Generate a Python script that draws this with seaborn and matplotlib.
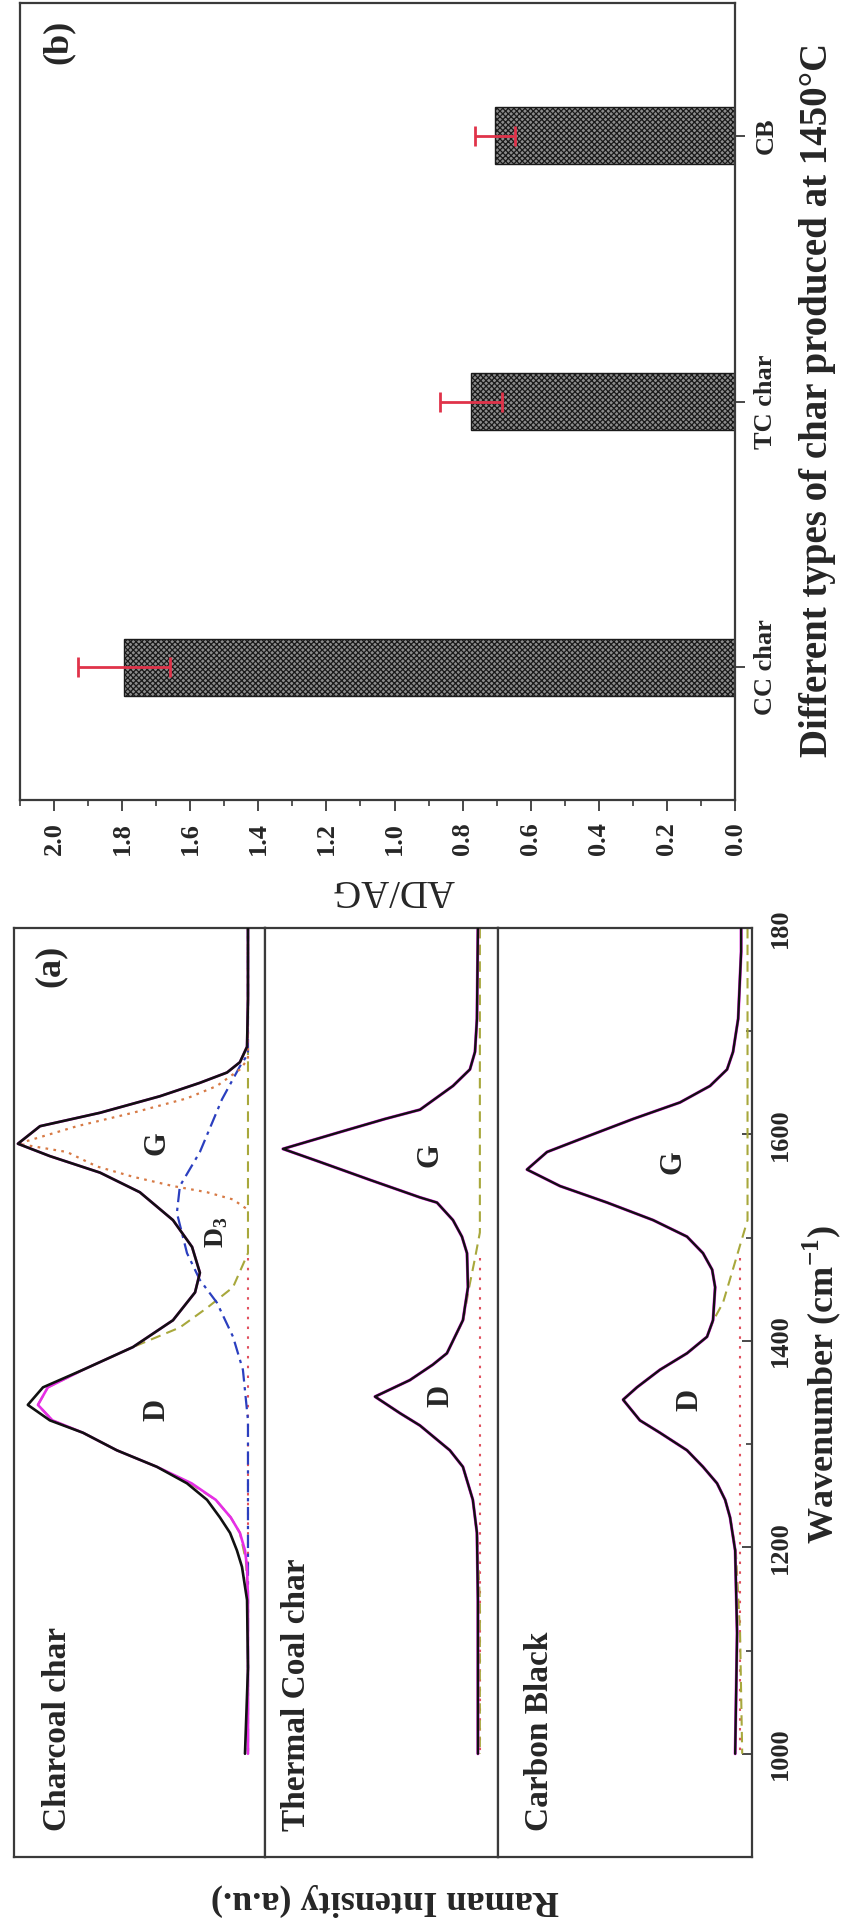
import matplotlib
matplotlib.use("Agg")
import matplotlib.pyplot as plt
import matplotlib.ticker as mticker
import numpy as np
import pandas as pd
import seaborn as sns

sns.set_theme(style="ticks")
plt.rcParams["font.family"] = ["Liberation Serif", "DejaVu Serif"]
plt.rcParams["font.weight"] = "bold"
plt.rcParams["mathtext.fontset"] = "custom"
plt.rcParams["mathtext.rm"] = "Liberation Serif"
plt.rcParams["mathtext.bf"] = "Liberation Serif:bold"
plt.rcParams["hatch.linewidth"] = 0.9

# ---------------- panel (b): AD/AG ratio ----------------
chars = ["CC char", "TC char", "CB"]
ad_ag = [1.795, 0.775, 0.705]
ad_ag_err = [0.135, 0.09, 0.06]

# ---------------- panel (a): Raman spectra ----------------
# charcoal char
cc_w = [1800, 1731, 1685, 1670, 1660, 1650, 1637, 1621, 1608, 1591, 1579, 1563, 1544,
        1517, 1491, 1466, 1447, 1420, 1394, 1372, 1355, 1338, 1323, 1311, 1294, 1278,
        1262, 1246, 1229, 1214, 1197, 1181, 1149, 1083, 1000]
cc_raw = [0.0, 0.0, 0.004, 0.035, 0.091, 0.209, 0.383, 0.643, 0.904, 1.0, 0.861, 0.643, 0.470,
          0.326, 0.243, 0.209, 0.230, 0.326, 0.5, 0.717, 0.891, 0.957, 0.861, 0.717, 0.570, 0.396,
          0.265, 0.178, 0.122, 0.078, 0.048, 0.026, 0.004, 0.0, 0.013]
cc_fit = [0.0, 0.0, 0.004, 0.035, 0.091, 0.209, 0.383, 0.643, 0.904, 1.0, 0.861, 0.643, 0.470,
          0.326, 0.243, 0.209, 0.230, 0.326, 0.5, 0.717, 0.87, 0.913, 0.85, 0.717, 0.570, 0.396,
          0.245, 0.14, 0.075, 0.035, 0.013, 0.004, 0.0, 0.0, 0.0]
cc_g_w = [1800, 1673, 1663, 1647, 1635, 1621, 1608, 1591, 1583, 1569, 1559, 1550, 1544, 1537, 1527]
cc_g_i = [0.0, 0.0, 0.035, 0.135, 0.265, 0.5, 0.743, 1.0, 0.787, 0.657, 0.5, 0.326, 0.178, 0.065, 0.0]
cc_d3_w = [1800, 1678, 1666, 1634, 1583, 1550, 1524, 1485, 1459, 1437, 1404, 1372, 1323, 1000]
cc_d3_i = [0.0, 0.0, 0.035, 0.113, 0.209, 0.296, 0.309, 0.265, 0.209, 0.135, 0.065, 0.022, 0.0, 0.0]
cc_d_w = [1800, 1485, 1452, 1432, 1413, 1394, 1372, 1355, 1338, 1323, 1311, 1294, 1278, 1262,
          1246, 1229, 1214, 1187, 1149, 1000]
cc_d_i = [0.0, 0.0, 0.065, 0.178, 0.296, 0.5, 0.717, 0.87, 0.913, 0.85, 0.717, 0.57, 0.396, 0.252,
          0.14, 0.075, 0.035, 0.009, 0.0, 0.0]
cc_d4_w = [1480, 1000]
cc_d4_i = [0.0, 0.0]

# thermal coal char
tc_w = [1800, 1712, 1680, 1663, 1647, 1624, 1615, 1602, 1586, 1573, 1556, 1539, 1534, 1517,
        1501, 1485, 1452, 1420, 1388, 1377, 1362, 1346, 1330, 1318, 1294, 1278, 1246, 1214,
        1149, 1000]
tc_raw = [0.0, 0.005, 0.015, 0.041, 0.128, 0.297, 0.477, 0.713, 1.0, 0.805, 0.554, 0.297, 0.21,
          0.128, 0.082, 0.056, 0.051, 0.077, 0.159, 0.231, 0.349, 0.528, 0.4, 0.297, 0.144, 0.077,
          0.026, 0.005, 0.0, 0.0]
tc_d_w = [1800, 1505, 1480, 1452, 1420, 1388, 1377, 1362, 1346, 1330, 1318, 1294, 1278, 1246,
          1214, 1149, 1000]
tc_d_i = [-0.01, -0.01, 0.015, 0.045, 0.075, 0.159, 0.231, 0.349, 0.528, 0.4, 0.297, 0.144,
          0.077, 0.026, 0.005, -0.01, -0.01]
tc_d4_w = [1480, 1000]
tc_d4_i = [-0.01, -0.01]

# carbon black
cb_w = [1800, 1777, 1712, 1680, 1663, 1647, 1631, 1615, 1598, 1583, 1566, 1550, 1534, 1517,
        1501, 1485, 1469, 1452, 1420, 1404, 1388, 1372, 1355, 1343, 1323, 1311, 1294, 1278,
        1262, 1246, 1229, 1197, 1117, 1000]
cb_raw = [-0.005, -0.005, 0.009, 0.033, 0.061, 0.141, 0.282, 0.502, 0.718, 0.906, 1.0, 0.845,
          0.624, 0.408, 0.249, 0.174, 0.131, 0.117, 0.127, 0.155, 0.249, 0.376, 0.484, 0.549,
          0.47, 0.376, 0.249, 0.174, 0.108, 0.07, 0.047, 0.023, 0.014, 0.023]
cb_d_w = [1800, 1517, 1437, 1420, 1404, 1388, 1372, 1355, 1343, 1323, 1311, 1294, 1278, 1262,
          1246, 1229, 1197, 1117, 1000]
cb_d_i = [-0.035, -0.035, 0.08, 0.125, 0.155, 0.249, 0.376, 0.484, 0.549, 0.47, 0.376, 0.249,
          0.174, 0.108, 0.07, 0.047, 0.02, 0.0, -0.01]
cb_d4_w = [1480, 1000]
cb_d4_i = [0.0, 0.0]

wn_ticks = [1000, 1200, 1400, 1600, 1800]
wn_labels = ["1000", "1200", "1400", "1600", "180"]

BLACK = "#111111"
MAGENTA = "#e62ee6"
ORANGE = "#d77a45"
BLUE = "#2b3fbf"
OLIVE = "#a8a83c"
RED = "#e0505e"
SPINE = "#3a3a3a"

W, H = 843, 1928
fig = plt.figure(figsize=(W / 100, H / 100), dpi=100)


def box(x0, y0, x1, y1):
    return [x0 / W, 1 - y1 / H, (x1 - x0) / W, (y1 - y0) / H]


def style_spines(ax):
    for s in ax.spines.values():
        s.set_visible(True)
        s.set_linewidth(1.6)
        s.set_color(SPINE)


# ---------------- panel (b) ----------------
axb = fig.add_axes(box(20, 3, 735, 800))
df_b = pd.DataFrame({"char": chars, "ratio": ad_ag})
sns.barplot(data=df_b, x="ratio", y="char", orient="h", width=0.215, color="#8c8c8c",
            saturation=1, edgecolor="#1a1a1a", linewidth=1.0, hatch="xxxxxx",
            errorbar=None, ax=axb)
pos = np.arange(len(chars))
axb.errorbar(ad_ag, pos, xerr=ad_ag_err, fmt="none", ecolor="#e0334a",
             elinewidth=2.0, capsize=7, capthick=2.0, zorder=5)
axb.set_ylim(-0.5, 2.5)
axb.set_xlim(2.1, 0)
axb.xaxis.set_major_locator(mticker.MultipleLocator(0.2))
axb.xaxis.set_minor_locator(mticker.MultipleLocator(0.1))
axb.xaxis.set_major_formatter(mticker.FormatStrFormatter("%.1f"))
axb.tick_params(axis="x", which="major", direction="out", length=8, width=1.3,
                labelsize=19, pad=8, labelrotation=90, color=SPINE)
axb.tick_params(axis="x", which="minor", direction="out", length=4.5, width=1.2, color=SPINE)
axb.yaxis.tick_right()
axb.tick_params(axis="y", which="major", direction="out", length=7, width=1.3,
                labelsize=19, pad=7, labelrotation=90, color=SPINE)
for t in axb.get_yticklabels():
    t.set_va("center")
axb.set_xlabel("")
axb.set_ylabel("")
style_spines(axb)
axb.text(0.053, 0.951, "(b)", transform=axb.transAxes, rotation=90,
         ha="center", va="center", fontsize=26)

fig.text(393 / W, 1 - 890 / H, "AD/AG", rotation=180, ha="center", va="center",
         fontsize=28, fontweight="normal")
fig.text(818 / W, 1 - 400 / H, "Different types of char produced at 1450\u00b0C",
         rotation=90, ha="center", va="center", fontsize=28)

# ---------------- panel (a) ----------------
panels = [
    dict(rect=box(14, 928, 265, 1857), xlim=(1.017, -0.074)),
    dict(rect=box(265, 928, 498, 1857), xlim=(1.092, -0.103)),
    dict(rect=box(498, 928, 752, 1857), xlim=(1.136, -0.056)),
]
axes = []
for p in panels:
    ax = fig.add_axes(p["rect"])
    ax.set_xlim(*p["xlim"])
    ax.set_ylim(900, 1800)
    ax.set_xticks([])
    ax.set_yticks([])
    style_spines(ax)
    axes.append(ax)
ax1, ax2, ax3 = axes


def trace(ax, w, i, color, lw, ls="-", z=2):
    sns.lineplot(x=i, y=w, sort=False, estimator=None, color=color, linewidth=lw,
                 linestyle=ls, legend=False, ax=ax, zorder=z)


dotted = (0, (1.2, 2.4))
sparse_dot = (0, (1.2, 3.5))
dashed = (0, (5, 3))
dashdot = (0, (6, 2.5, 1.5, 2.5))

# charcoal char
trace(ax1, cc_d4_w, cc_d4_i, RED, 1.5, sparse_dot, 1)
trace(ax1, cc_d_w, cc_d_i, OLIVE, 1.5, dashed, 1)
trace(ax1, cc_d3_w, cc_d3_i, BLUE, 1.6, dashdot, 1)
trace(ax1, cc_g_w, cc_g_i, ORANGE, 1.6, dotted, 1)
trace(ax1, cc_w, cc_fit, MAGENTA, 1.9, "-", 2)
trace(ax1, cc_w, cc_raw, BLACK, 1.9, "-", 3)

# thermal coal char
trace(ax2, tc_d4_w, tc_d4_i, RED, 1.5, sparse_dot, 1)
trace(ax2, tc_d_w, tc_d_i, OLIVE, 1.5, dashed, 1)
trace(ax2, tc_w, tc_raw, MAGENTA, 2.2, "-", 2)
trace(ax2, tc_w, tc_raw, BLACK, 1.7, "-", 3)

# carbon black
trace(ax3, cb_d4_w, cb_d4_i, RED, 1.5, sparse_dot, 1)
trace(ax3, cb_d_w, cb_d_i, OLIVE, 1.5, dashed, 1)
trace(ax3, cb_w, cb_raw, MAGENTA, 2.2, "-", 2)
trace(ax3, cb_w, cb_raw, BLACK, 1.7, "-", 3)

for ax in axes:
    ax.set_xlabel("")
    ax.set_ylabel("")

# wavenumber axis (right side of the last panel)
ax3.yaxis.tick_right()
ax3.set_yticks(wn_ticks)
ax3.set_yticklabels(wn_labels)
ax3.yaxis.set_minor_locator(mticker.FixedLocator([1100, 1300, 1500, 1700]))
ax3.tick_params(axis="y", which="major", direction="in", length=7, width=1.3,
                labelsize=19, pad=12, labelrotation=90, color=SPINE)
ax3.tick_params(axis="y", which="minor", direction="in", length=4, width=1.2, color=SPINE)
for t in ax3.get_yticklabels():
    t.set_va("center")

# peak annotations
ax1.text(0.396, 1333, "D", rotation=90, ha="center", va="center", fontsize=22)
ax1.text(0.396, 1592, "G", rotation=90, ha="center", va="center", fontsize=22)
ax1.text(0.135, 1505, r"D$_\mathbf{3}$", rotation=90, ha="center", va="center", fontsize=20)
ax2.text(0.19, 1347, "D", rotation=90, ha="center", va="center", fontsize=22)
ax2.text(0.246, 1580, "G", rotation=90, ha="center", va="center", fontsize=22)
ax3.text(0.235, 1343, "D", rotation=90, ha="center", va="center", fontsize=22)
ax3.text(0.315, 1573, "G", rotation=90, ha="center", va="center", fontsize=22)

ax1.text(0.861, 1763, "(a)", rotation=90, ha="center", va="center", fontsize=26)
ax1.text(0.826, 925, "Charcoal char", rotation=90, ha="center", va="bottom", fontsize=24)
ax2.text(0.928, 925, "Thermal Coal char", rotation=90, ha="center", va="bottom", fontsize=24)
ax3.text(0.939, 925, "Carbon Black", rotation=90, ha="center", va="bottom", fontsize=24)

fig.text(822 / W, 1 - 1385 / H, r"Wavenumber (cm$^{\mathbf{-1}}$)", rotation=90,
         ha="center", va="center", fontsize=26)
fig.text(385 / W, 1 - 1900 / H, "Raman Intensity (a.u.)", rotation=180,
         ha="center", va="center", fontsize=26)

fig.savefig("out.png", dpi=100, facecolor="white")
